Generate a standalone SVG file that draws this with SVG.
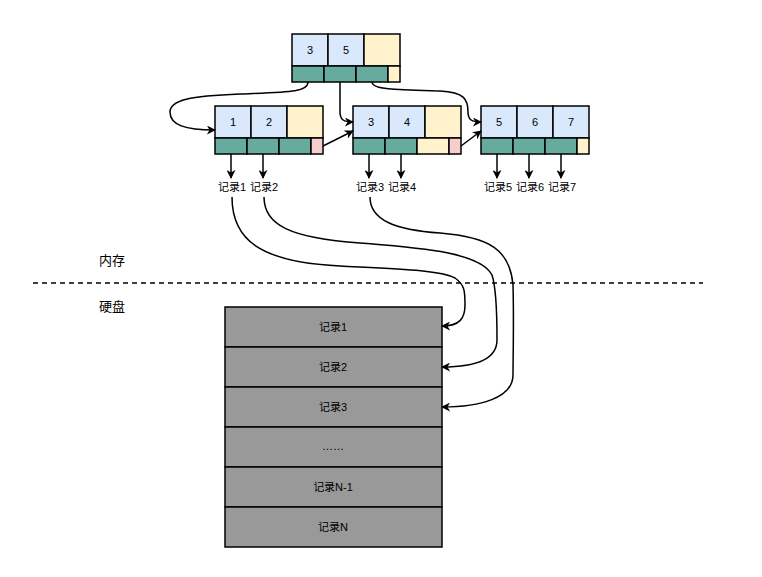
<svg xmlns="http://www.w3.org/2000/svg" width="762" height="577" viewBox="0 0 762 577">
<style>
text{font-family:"Liberation Sans","Noto Sans CJK SC",sans-serif;font-size:11px;fill:#000;text-anchor:middle;dominant-baseline:central}
.k{fill:#dae8fc;stroke:#000;stroke-width:1.5}
.y{fill:#fff2cc;stroke:#000;stroke-width:1.5}
.t{fill:#67ab9f;stroke:#000;stroke-width:1.5}
.p{fill:#f8cecc;stroke:#000;stroke-width:1.5}
.d{fill:#999999;stroke:#000;stroke-width:1.5}
.c{fill:none;stroke:#000;stroke-width:1.5}
.big{font-size:13px}
</style>
<defs>
<marker id="a" viewBox="0 0 10 10" refX="9" refY="5" markerWidth="9" markerHeight="9" markerUnits="userSpaceOnUse" orient="auto">
<path d="M0 0 L10 5 L0 10 L3 5 Z" fill="#000"/>
</marker>
</defs>
<rect width="762" height="577" fill="#fff"/>

<g id="root">
<rect class="k" x="292" y="34" width="36" height="32"/><rect class="k" x="328" y="34" width="36" height="32"/><rect class="y" x="364" y="34" width="36" height="32"/>
<rect class="t" x="292" y="66" width="32" height="16"/><rect class="t" x="324" y="66" width="32" height="16"/><rect class="t" x="356" y="66" width="32" height="16"/><rect class="y" x="388" y="66" width="12" height="16"/>
<text x="310" y="50">3</text><text x="346" y="50">5</text>
</g>

<g id="leaf1">
<rect class="k" x="215" y="106" width="36" height="32"/><rect class="k" x="251" y="106" width="36" height="32"/><rect class="y" x="287" y="106" width="36" height="32"/>
<rect class="t" x="215" y="138" width="32" height="16"/><rect class="t" x="247" y="138" width="32" height="16"/><rect class="t" x="279" y="138" width="32" height="16"/><rect class="p" x="311" y="138" width="12" height="16"/>
<text x="233" y="122">1</text><text x="269" y="122">2</text>
</g>

<g id="leaf2">
<rect class="k" x="353" y="106" width="36" height="32"/><rect class="k" x="389" y="106" width="36" height="32"/><rect class="y" x="425" y="106" width="36" height="32"/>
<rect class="t" x="353" y="138" width="32" height="16"/><rect class="t" x="385" y="138" width="32" height="16"/><rect class="y" x="417" y="138" width="32" height="16"/><rect class="p" x="449" y="138" width="12" height="16"/>
<text x="371" y="122">3</text><text x="407" y="122">4</text>
</g>

<g id="leaf3">
<rect class="k" x="481" y="106" width="36" height="32"/><rect class="k" x="517" y="106" width="36" height="32"/><rect class="k" x="553" y="106" width="36" height="32"/>
<rect class="t" x="481" y="138" width="32" height="16"/><rect class="t" x="513" y="138" width="32" height="16"/><rect class="t" x="545" y="138" width="32" height="16"/><rect class="y" x="577" y="138" width="12" height="16"/>
<text x="499" y="122">5</text><text x="535" y="122">6</text><text x="571" y="122">7</text>
</g>

<g id="labels">
<text x="232" y="187">记录1</text><text x="264" y="187">记录2</text>
<text x="370" y="187">记录3</text><text x="402" y="187">记录4</text>
<text x="498" y="187">记录5</text><text x="530" y="187">记录6</text><text x="562" y="187">记录7</text>
<text class="big" x="112" y="260">内存</text>
<text class="big" x="112" y="306">硬盘</text>
</g>

<g id="disk">
<rect class="d" x="225" y="307" width="217" height="40"/><text x="333" y="327">记录1</text>
<rect class="d" x="225" y="347" width="217" height="40"/><text x="333" y="367">记录2</text>
<rect class="d" x="225" y="387" width="217" height="40"/><text x="333" y="407">记录3</text>
<rect class="d" x="225" y="427" width="217" height="40"/><text x="333" y="446">……</text>
<rect class="d" x="225" y="467" width="217" height="40"/><text x="333" y="487">记录N-1</text>
<rect class="d" x="225" y="507" width="217" height="40"/><text x="333" y="527">记录N</text>
</g>

<g id="connectors">
<line x1="33" y1="283" x2="703" y2="283" stroke="#000" stroke-width="1.5" stroke-dasharray="5 4"/>
<path class="c" marker-end="url(#a)" d="M308 82 C308 92 290 92 240 94 C190 96 170 100 170 112 C170 125 185 130 215 130"/>
<path class="c" marker-end="url(#a)" d="M340 82 L340 112 C340 120 344 122 353 122"/>
<path class="c" marker-end="url(#a)" d="M372 82 C372 90 400 90 440 91 C465 92 468 100 468 112 C468 120 472 122 481 122"/>
<path class="c" marker-end="url(#a)" d="M323 146 L353 131"/>
<path class="c" marker-end="url(#a)" d="M461 146 L481 131"/>
<path class="c" marker-end="url(#a)" d="M231 154 L231 178"/>
<path class="c" marker-end="url(#a)" d="M263 154 L263 178"/>
<path class="c" marker-end="url(#a)" d="M369 154 L369 178"/>
<path class="c" marker-end="url(#a)" d="M401 154 L401 178"/>
<path class="c" marker-end="url(#a)" d="M497 154 L497 178"/>
<path class="c" marker-end="url(#a)" d="M529 154 L529 178"/>
<path class="c" marker-end="url(#a)" d="M561 154 L561 178"/>
<path class="c" marker-end="url(#a)" d="M232 197 C232 240 260 262 340 266 C400 269 440 270 455 278 C465 285 465 292 465 305 C465 318 460 326 442 326"/>
<path class="c" marker-end="url(#a)" d="M264 197 C264 225 290 238 360 243 C420 248 480 252 492 275 C497 290 497 320 497 340 C497 360 475 367 442 367"/>
<path class="c" marker-end="url(#a)" d="M370 197 C370 220 395 230 440 233 C490 237 510 250 513 285 C514 320 513 360 513 375 C513 398 480 407 442 407"/>
</g>
</svg>
